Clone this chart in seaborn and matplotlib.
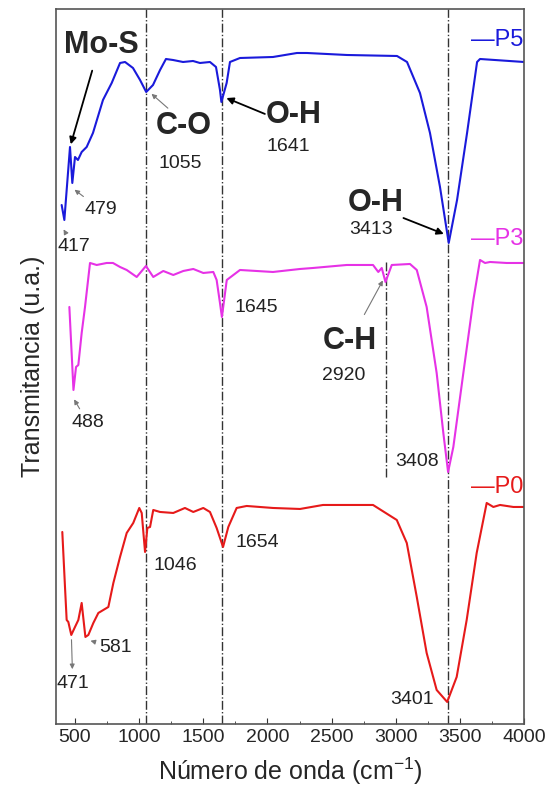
import numpy as np
import pandas as pd
import matplotlib
matplotlib.use("Agg")
import matplotlib.pyplot as plt
import seaborn as sns

# FTIR spectra, transmittance in arbitrary units (offset per sample)
p5_wn = [396, 417, 461, 479, 500, 523, 552, 591, 640, 718, 786, 851, 890, 952, 1007,
         1055, 1108, 1163, 1209, 1264, 1342, 1420, 1474, 1552, 1599, 1630, 1641, 1682,
         1708, 1786, 2043, 2230, 2308, 2620, 3010, 3088, 3189, 3267, 3345, 3413, 3478,
         3556, 3634, 3657, 4000]
p5_t = [519, 504, 577, 541, 567, 564, 572, 577, 591, 624, 641, 661, 662, 656, 644,
        632, 639, 654, 665, 664, 662, 663, 661, 662, 657, 634, 622, 641,
        662, 666, 667, 671, 671, 669, 668, 662, 631, 591, 537, 481, 524,
        591, 662, 665, 662]

p3_wn = [456, 488, 508, 526, 552, 578, 617, 669, 747, 796, 851, 903, 981, 1053, 1110,
         1188, 1266, 1344, 1422, 1500, 1578, 1604, 1630, 1645, 1683, 1786, 2043, 2254,
         2355, 2618, 2823, 2864, 2891, 2920, 2969, 3111, 3164, 3241, 3319, 3371, 3408,
         3449, 3527, 3605, 3657, 3696, 3735, 3865, 4000]
p3_t = [417, 334, 357, 359, 391, 417, 461, 459, 461, 461, 457, 454, 447, 458, 447,
        453, 449, 453, 455, 451, 452, 444, 421, 407, 444, 454, 452, 455,
        456, 459, 459, 452, 456, 442, 459, 460, 454, 417, 351, 291, 252,
        277, 351, 424, 464, 461, 462, 461, 461]

p0_wn = [401, 422, 435, 448, 471, 500, 526, 552, 581, 604, 643, 682, 721, 760, 799,
         851, 903, 954, 1001, 1020, 1046, 1064, 1085, 1110, 1163, 1266, 1357, 1422,
         1500, 1552, 1604, 1654, 1695, 1760, 1838, 2043, 2254, 2433, 2823, 3008, 3086,
         3164, 3241, 3319, 3401, 3475, 3553, 3631, 3709, 3761, 3813, 3917, 4000]
p0_t = [192, 137, 104, 102, 89, 97, 104, 121, 87, 89, 101, 111, 114, 117, 141,
        167, 191, 201, 216, 211, 172, 196, 197, 214, 212, 211, 216, 212,
        216, 212, 196, 177, 197, 216, 218, 216, 215, 219, 219, 204, 181,
        127, 71, 34, 22, 47, 104, 171, 221, 217, 219, 217, 217]

samples = ["P5", "P3", "P0"]
colors = {"P5": "#1a1adb", "P3": "#e632e6", "P0": "#e61a1a"}
band_lines = [1055, 1648, 3408]

df = pd.concat([
    pd.DataFrame({"wn": p5_wn, "t": p5_t, "muestra": "P5"}),
    pd.DataFrame({"wn": p3_wn, "t": p3_t, "muestra": "P3"}),
    pd.DataFrame({"wn": p0_wn, "t": p0_t, "muestra": "P0"}),
])

sns.set_style("white")
plt.rcParams["font.family"] = ["Liberation Sans", "DejaVu Sans"]

fig = plt.figure(figsize=(5.47, 7.96), dpi=100)
ax = fig.add_axes([0.1024, 0.0905, 0.8556, 0.8982])

sns.lineplot(data=df, x="wn", y="t", hue="muestra", palette=colors,
             sort=False, estimator=None, legend=False, linewidth=1.5, ax=ax)

for x in band_lines:
    ax.axvline(x, color="#333333", lw=1, ls="-.", zorder=0)
ax.plot([2925, 2925], [247, 464], color="#333333", lw=1, ls="-.", zorder=0)

ax.set_xlim(352, 4000)
ax.set_ylim(0, 715)
ax.set_xticks(range(500, 4001, 500))
ax.set_xticks(range(750, 4000, 500), minor=True)
ax.set_yticks([])
ax.tick_params(axis="x", which="major", direction="in", length=4, labelsize=14,
               color="#333333", bottom=True)
ax.tick_params(axis="x", which="minor", direction="in", length=2.5,
               color="#333333", bottom=True)
for s in ax.spines.values():
    s.set_color("#555555")
    s.set_linewidth(1.2)

ax.set_xlabel("Número de onda (cm$^{\\mathregular{-1}}$)", fontsize=18, labelpad=7)
ax.set_ylabel("Transmitancia (u.a.)", fontsize=18, labelpad=8)

# sample labels
for name, y in [("P5", 684), ("P3", 485), ("P0", 237)]:
    ax.text(3995, y, "\u2014" + name, color=colors[name], fontsize=17,
            ha="right", va="center")

bold = dict(fontsize=22, fontweight="bold", ha="center", va="center")
num = dict(fontsize=14, ha="center", va="center", color="#222222")
thin = dict(arrowstyle="-|>", color="#777777", lw=0.8, mutation_scale=7)
dark = dict(arrowstyle="-|>", color="black", lw=1.3, mutation_scale=10)

ax.text(703, 679, "Mo-S", **bold)
ax.annotate("", xy=(461, 577), xytext=(640, 656), arrowprops=dark)
ax.annotate("479", xy=(479, 536), xytext=(575, 514), arrowprops=thin,
            fontsize=14, ha="left", va="center", color="#222222")
ax.annotate("417", xy=(400, 497), xytext=(490, 477), arrowprops=thin, **num)

ax.text(1350, 598, "C-O", **bold)
ax.text(1318, 560, "1055", **num)
ax.annotate("", xy=(1080, 632), xytext=(1240, 614), arrowprops=thin)

ax.text(2207, 609, "O-H", **bold)
ax.text(2160, 577, "1641", **num)
ax.annotate("", xy=(1660, 627), xytext=(2000, 609), arrowprops=dark)

ax.text(2840, 521, "O-H", **bold)
ax.text(2807, 494, "3413", **num)
ax.annotate("", xy=(3395, 489), xytext=(3040, 507), arrowprops=dark)

ax.text(1911, 416, "1645", **num)
ax.annotate("488", xy=(482, 327), xytext=(601, 301), arrowprops=thin, **num)

ax.text(2644, 383, "C-H", **bold)
ax.text(2597, 348, "2920", **num)
ax.annotate("", xy=(2910, 446), xytext=(2745, 407), arrowprops=thin)

ax.text(3166, 262, "3408", **num)

ax.text(1280, 158, "1046", **num)
ax.text(1919, 181, "1654", **num)
ax.annotate("581", xy=(600, 84), xytext=(690, 76), arrowprops=thin,
            fontsize=14, ha="left", va="center", color="#222222")
ax.annotate("", xy=(480, 52), xytext=(472, 87), arrowprops=thin)
ax.text(484, 40, "471", **num)
ax.text(3127, 24, "3401", **num)

fig.savefig("out.png", dpi=100)
